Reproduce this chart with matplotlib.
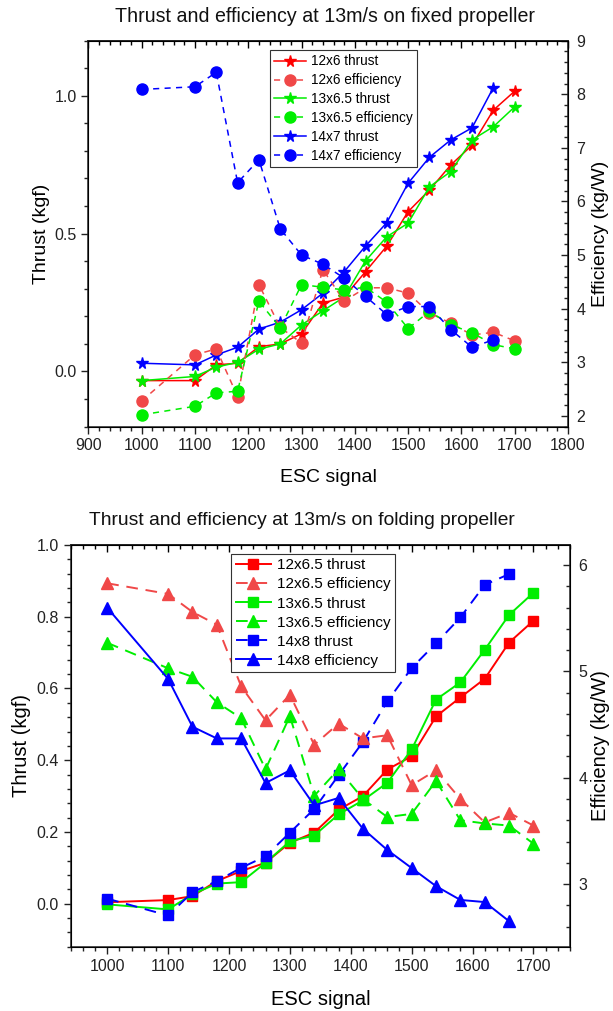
import matplotlib
matplotlib.use('Agg')
import matplotlib.pyplot as plt
from matplotlib.ticker import MultipleLocator

plt.rcParams['font.family'] = ['Liberation Sans', 'DejaVu Sans']

# ESC signal values
esc = [1000, 1100, 1140, 1180, 1220, 1260, 1300, 1340, 1380, 1420, 1460, 1500, 1540, 1580, 1620, 1660, 1700]
esc_short = esc[:-1]

# --- fixed propeller ---
fix_12x6_thrust = [-0.033, -0.033, 0.024, 0.03, 0.09, 0.10, 0.137, 0.248, 0.27, 0.362, 0.455, 0.58, 0.658, 0.749, 0.821, 0.948, 1.017]
fix_12x6_eff = [2.28, 3.14, 3.25, 2.36, 4.45, 3.65, 3.36, 4.73, 4.14, 4.39, 4.39, 4.29, 3.92, 3.73, 3.51, 3.56, 3.40]
fix_13x65_thrust = [-0.033, -0.018, 0.016, 0.033, 0.081, 0.10, 0.169, 0.22, 0.27, 0.401, 0.489, 0.538, 0.67, 0.725, 0.84, 0.888, 0.96]
fix_13x65_eff = [2.02, 2.18, 2.43, 2.46, 4.14, 3.64, 4.45, 4.40, 4.35, 4.40, 4.12, 3.63, 3.95, 3.70, 3.55, 3.33, 3.25]
fix_14x7_thrust = [0.030, 0.024, 0.06, 0.088, 0.154, 0.179, 0.224, 0.284, 0.362, 0.455, 0.54, 0.683, 0.777, 0.84, 0.884, 1.03]
fix_14x7_eff = [8.09, 8.14, 8.41, 6.35, 6.78, 5.49, 5.00, 4.83, 4.57, 4.23, 3.89, 4.04, 4.04, 3.61, 3.28, 3.42]

# --- folding propeller ---
fold_12x65_thrust = [0.004, 0.010, 0.021, 0.063, 0.091, 0.114, 0.17, 0.198, 0.262, 0.30, 0.374, 0.411, 0.522, 0.575, 0.627, 0.728, 0.789]
fold_12x65_eff = [5.83, 5.73, 5.56, 5.44, 4.86, 4.54, 4.78, 4.31, 4.51, 4.37, 4.40, 3.93, 4.07, 3.80, 3.58, 3.67, 3.55]
fold_13x65_thrust = [-0.002, -0.016, 0.026, 0.056, 0.06, 0.114, 0.174, 0.19, 0.249, 0.288, 0.337, 0.43, 0.569, 0.617, 0.708, 0.805, 0.867]
fold_13x65_eff = [5.27, 5.03, 4.95, 4.71, 4.56, 4.08, 4.58, 3.83, 4.08, 3.80, 3.63, 3.66, 3.97, 3.60, 3.57, 3.55, 3.38]
fold_14x8_thrust = [0.014, -0.033, 0.032, 0.063, 0.10, 0.132, 0.198, 0.264, 0.358, 0.451, 0.564, 0.657, 0.726, 0.798, 0.889, 0.919]
fold_14x8_eff = [5.60, 4.93, 4.48, 4.37, 4.37, 3.95, 4.07, 3.74, 3.81, 3.52, 3.32, 3.15, 2.98, 2.85, 2.83, 2.65]

RED = '#ff0000'
RED_L = '#f04848'
GREEN = '#00ee00'
BLUE = '#0000ff'


def style_axes(ax, ax2, xminor, yminor, y2minor):
    for s in ax.spines.values():
        s.set_linewidth(1.1)
        s.set_color('#222222')
    ax.xaxis.set_minor_locator(MultipleLocator(xminor))
    ax.yaxis.set_minor_locator(MultipleLocator(yminor))
    ax2.yaxis.set_minor_locator(MultipleLocator(y2minor))
    ax.tick_params(axis='both', which='major', direction='out', length=5, width=1.0, labelsize=11.5, colors='#222222')
    ax.tick_params(axis='both', which='minor', direction='out', length=3, width=1.0, colors='#222222')
    ax.tick_params(axis='y', right=False)
    ax2.tick_params(axis='y', which='major', direction='in', length=5, width=1.0, labelsize=11.5, colors='#222222', pad=6)
    ax2.tick_params(axis='y', which='minor', direction='in', length=3, width=1.0, colors='#222222')
    top = ax.secondary_xaxis('top')
    top.xaxis.set_major_locator(ax.xaxis.get_major_locator())
    top.xaxis.set_minor_locator(MultipleLocator(xminor))
    top.tick_params(which='major', direction='in', length=5, width=1.0, labeltop=False)
    top.tick_params(which='minor', direction='in', length=3, width=1.0)
    top.spines['top'].set_linewidth(1.1)


fig = plt.figure(figsize=(6.13, 10.11), dpi=100)

# ================= top: fixed propeller =================
ax = fig.add_axes([0.1442, 0.578, 0.7824, 0.3818])
ax2 = ax.twinx()

ms_star = 8.5
ms_circ = 8
ax.plot(esc, fix_12x6_thrust, '-', color=RED, marker='*', ms=ms_star, lw=1.1, label='12x6 thrust')
ax.plot(esc, fix_13x65_thrust, '-', color=GREEN, marker='*', ms=ms_star, lw=1.1, label='13x6.5 thrust')
ax.plot(esc_short, fix_14x7_thrust, '-', color=BLUE, marker='*', ms=ms_star, lw=1.1, label='14x7 thrust')
ax2.plot(esc, fix_12x6_eff, '--', color=RED_L, marker='o', ms=ms_circ, lw=1.1, dashes=(4, 3.5), label='12x6 efficiency')
ax2.plot(esc, fix_13x65_eff, '--', color=GREEN, marker='o', ms=ms_circ, lw=1.1, dashes=(4, 3.5), label='13x6.5 efficiency')
ax2.plot(esc_short, fix_14x7_eff, '--', color=BLUE, marker='o', ms=ms_circ, lw=1.1, dashes=(4, 3.5), label='14x7 efficiency')

ax.set_xlim(900, 1800)
ax.set_ylim(-0.2, 1.2)
ax2.set_ylim(1.8, 9.0)
ax.xaxis.set_major_locator(MultipleLocator(100))
ax.yaxis.set_major_locator(MultipleLocator(0.5))
ax.yaxis.set_major_formatter('{x:.1f}')
ax2.yaxis.set_major_locator(MultipleLocator(1))
style_axes(ax, ax2, 20, 0.1, 0.2)

ax.set_xlabel('ESC signal', fontsize=14, labelpad=11)
ax.set_ylabel('Thrust (kgf)', fontsize=14, labelpad=3)
ax2.set_ylabel('Efficiency (kg/W)', fontsize=14, labelpad=5)
fig.text(0.530, 0.984, 'Thrust and efficiency at 13m/s on fixed propeller', ha='center', va='center', fontsize=14.1, color='#111111')

h = [ax.lines[0], ax2.lines[0], ax.lines[1], ax2.lines[1], ax.lines[2], ax2.lines[2]]
leg = ax2.legend(h, [l.get_label() for l in h], loc='upper left', bbox_to_anchor=(0.379, 0.975),
                 fontsize=9.8, frameon=True, fancybox=False, edgecolor='#333333', framealpha=1,
                 handlelength=2.3, labelspacing=0.36, borderpad=0.3, handletextpad=0.4, borderaxespad=0)
leg.get_frame().set_linewidth(0.8)

# ================= bottom: folding propeller =================
bx = fig.add_axes([0.1153, 0.0636, 0.8145, 0.3973])
bx2 = bx.twinx()

ms_sq = 7
ms_tri = 8.5
bx.plot(esc, fold_12x65_thrust, '-', color=RED, marker='s', ms=ms_sq, lw=1.4, label='12x6.5 thrust')
bx.plot(esc, fold_13x65_thrust, '-', color=GREEN, marker='s', ms=ms_sq, lw=1.4, label='13x6.5 thrust')
bx.plot(esc_short, fold_14x8_thrust, '--', color=BLUE, marker='s', ms=ms_sq, lw=1.4, dashes=(6, 4), label='14x8 thrust')
bx2.plot(esc, fold_12x65_eff, '--', color=RED_L, marker='^', ms=ms_tri, lw=1.4, dashes=(6, 4), label='12x6.5 efficiency')
bx2.plot(esc, fold_13x65_eff, '--', color=GREEN, marker='^', ms=ms_tri, lw=1.4, dashes=(6, 4), label='13x6.5 efficiency')
bx2.plot(esc_short, fold_14x8_eff, '-', color=BLUE, marker='^', ms=ms_tri, lw=1.4, label='14x8 efficiency')

bx.set_xlim(940, 1760)
bx.set_ylim(-0.12, 1.0)
bx2.set_ylim(2.41, 6.19)
bx.xaxis.set_major_locator(MultipleLocator(100))
bx.yaxis.set_major_locator(MultipleLocator(0.2))
bx.yaxis.set_major_formatter('{x:.1f}')
bx2.yaxis.set_major_locator(MultipleLocator(1))
style_axes(bx, bx2, 20, 0.04, 0.2)
bx.set_xticks([1000, 1100, 1200, 1300, 1400, 1500, 1600, 1700])

bx.set_xlabel('ESC signal', fontsize=14.5, labelpad=12)
bx.set_ylabel('Thrust (kgf)', fontsize=14.5, labelpad=4)
bx2.set_ylabel('Efficiency (kg/W)', fontsize=14.5, labelpad=3)
fig.text(0.492, 0.485, 'Thrust and efficiency at 13m/s on folding propeller', ha='center', va='center', fontsize=13.9, color='#111111')

h = [bx.lines[0], bx2.lines[0], bx.lines[1], bx2.lines[1], bx.lines[2], bx2.lines[2]]
leg = bx2.legend(h, [l.get_label() for l in h], loc='upper left', bbox_to_anchor=(0.321, 0.978),
                 fontsize=11, frameon=True, fancybox=False, edgecolor='#333333', framealpha=1,
                 handlelength=2.3, labelspacing=0.33, borderpad=0.3, handletextpad=0.4, borderaxespad=0)
leg.get_frame().set_linewidth(0.8)

fig.savefig('out.png', dpi=100)
